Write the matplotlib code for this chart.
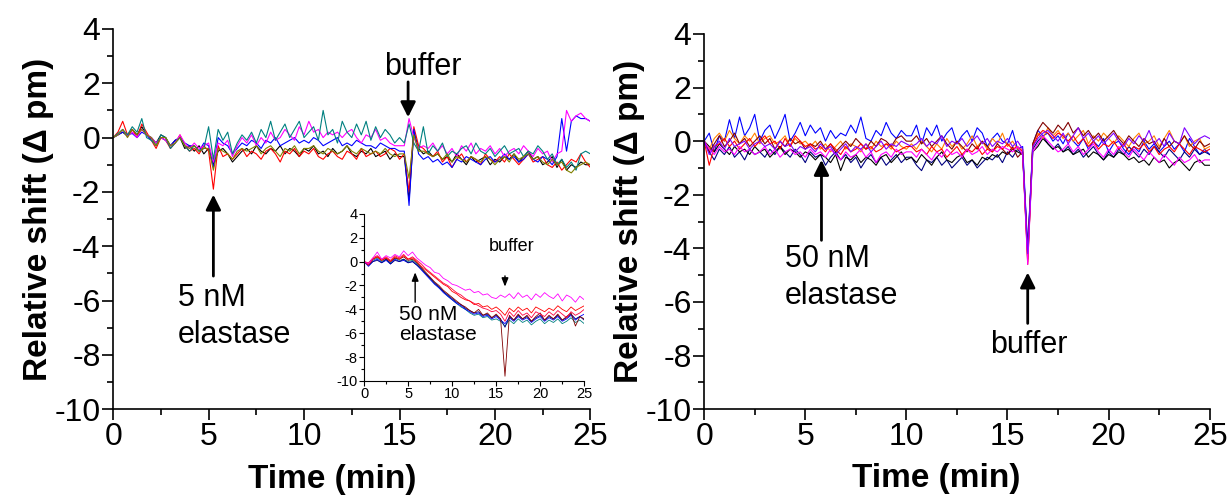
import numpy as np
import matplotlib
matplotlib.use("Agg")
import matplotlib.pyplot as plt
from matplotlib.ticker import MultipleLocator

plt.rcParams['font.family'] = ['Liberation Sans', 'DejaVu Sans']
plt.rcParams['axes.unicode_minus'] = False

# ---- left panel, 5 nM elastase (one point every 0.25 min) ----
left_black = [0, 0.1, 0.2, 0.05, 0.3, 0.1, 0.4, 0.1, 0.0, -0.2, 0.1,
              0.0, -0.3, -0.1, 0.0, -0.4, -0.3, -0.5, -0.3, -0.6, -0.4,
              -1.0,
              -0.5, -0.4, -0.6, -0.9, -0.7, -0.5, -0.4, -0.6, -0.3, -0.5, -0.6, -0.4, -0.5, -0.3, -0.6, -0.4, -0.5, -0.7, -0.4,
              -0.5, -0.3, -0.6, -0.5, -0.7, -0.4, -0.6, -0.5, -0.3, -0.6, -0.7, -0.5, -0.6, -0.4, -0.7, -0.6, -0.5, -0.8, -0.6, -0.7, -0.7,
              -2.3,
              0.2, -0.4, -0.6, -0.5, -0.7, -0.6, -0.8, -0.7, -0.9, -0.6, -0.8, -1.0, -0.7, -0.9, -0.8, -0.7, -1.0, -0.8, -0.9,
              -0.7, -0.8, -0.6, -0.9, -0.7, -0.5, -0.8, -0.7, -1.0, -0.9, -0.7, -1.1, -0.8, -1.2, -1.0, -1.1, -0.9, -1.0, -1.0]
left_red = [0, 0.2, 0.6, 0.1, 0.3, 0.0, 0.5, 0.2, -0.1, -0.4, 0.0,
            -0.1, -0.4, -0.2, 0.1, -0.3, -0.5, -0.4, -0.6, -0.3, -0.5,
            -1.9,
            -0.3, -0.7, -0.6, -0.8, -0.6, -0.4, -0.7, -0.5, -0.6, -0.8, -0.5, -0.4, -0.6, -0.9, -0.5, -0.6, -0.4, -0.7, -0.5,
            -0.6, -0.4, -0.7, -0.8, -0.6, -0.5, -0.7, -0.8, -0.5, -0.6, -0.8, -0.4, -0.7, -0.6, -0.5, -0.7, -0.6, -0.4, -0.5, -0.8, -0.6,
            -2.0,
            0.4, -0.3, -0.4, -0.6, -0.7, -0.5, -0.9, -0.7, -1.1, -0.8, -0.6, -0.9, -0.7, -0.8, -1.0, -0.6, -0.8, -0.9, -0.7,
            -0.9, -0.6, -0.8, -1.0, -0.8, -0.6, -0.9, -0.8, -0.7, -1.0, -1.1, -0.9, -1.2, -1.0, -0.8, -0.9, -0.6, -0.9, -1.1]
left_blue = [0, 0.1, 0.2, 0.1, 0.15, 0.0, 0.2, 0.1, -0.1, -0.2, 0.0,
             -0.1, -0.3, -0.1, 0.0, -0.2, -0.3, -0.3, -0.5, -0.2, -0.3,
             -1.1,
             0.0, -0.2, -0.3, -0.6, -0.4, -0.2, -0.3, -0.1, -0.2, -0.4, -0.1, -0.2, 0.0, -0.3, -0.2, -0.1, 0.0, -0.2, -0.1,
             -0.2, 0.0, -0.1, -0.3, -0.2, -0.1, 0.0, -0.3, -0.2, -0.3, -0.1, -0.2, -0.3, -0.3, -0.4, -0.2, -0.3, -0.4, -0.4, -0.5, -0.5,
             -2.5,
             0.3, -0.6, -0.8, -0.7, -0.9, -0.8, -1.0, -0.9, -1.1, -0.8, -0.9, -0.7, -0.8, -0.9, -1.0, -0.8, -0.7, -0.9, -0.8,
             -0.6, -0.8, -0.7, -0.9, -0.8, -0.6, -0.8, -0.9, -0.7, -0.8, -1.0, -0.7, 0.7, -0.5, 0.6, 0.8, 0.7, 0.7, 0.6]
left_magenta = [0, 0.1, 0.3, 0.05, 0.2, 0.0, 0.3, 0.1, 0.0, -0.2, 0.0,
                -0.1, -0.3, -0.2, 0.1, -0.2, -0.4, -0.2, -0.4, -0.3, -0.2,
                -0.9,
                -0.2, -0.3, -0.1, -0.7, -0.3, 0.0, -0.2, 0.1, -0.3, 0.0, -0.2, 0.2, -0.1, 0.0, 0.3, 0.1, -0.1, 0.4, 0.1,
                0.6, 0.2, 0.3, 0.0, 0.2, 0.1, 0.2, 0.0, 0.2, 0.3, 0.0, -0.2, 0.1, 0.0, 0.3, -0.1, 0.0, -0.2, -0.3, -0.3, -0.3,
                0.7,
                0.0, -0.4, -0.3, -0.4, -0.2, -0.5, -0.3, -0.6, -0.4, -0.7, -0.3, -0.5, -0.2, -0.6, -0.4, -0.5, -0.3, -0.6, -0.4,
                -0.7, -0.5, -0.4, -0.6, -0.3, -0.5, -0.7, -0.4, -0.6, -0.5, -0.9, -0.6, -0.5, 1.0, 0.6, 0.8, 0.9, 0.7, 0.6]
left_teal = [0, 0.15, 0.3, 0.1, 0.4, 0.2, 0.7, 0.0, -0.1, -0.3, 0.1,
             0.0, -0.4, -0.2, 0.0, -0.3, -0.5, -0.3, -0.5, -0.4, 0.4,
             -0.8,
             0.3, -0.1, 0.2, -0.6, -0.2, 0.1, -0.1, 0.2, -0.2, 0.3, 0.0, 0.6, -0.1, 0.2, 0.5, 0.0, 0.3, 0.6, 0.0,
             0.2, 0.4, -0.1, 1.0, 0.1, 0.3, -0.2, 0.6, 0.2, 0.0, 0.5, 0.1, 0.6, -0.1, 0.4, 0.0, 0.3, 0.1, -0.2, 0.0, -0.2,
             0.5,
             -0.2, -0.5, 0.4, -0.6, -0.3, -0.5, -0.2, -0.7, -0.5, -0.6, -0.4, -0.3, -0.6, -0.2, -0.5, -0.6, -0.4, -0.7, -0.5,
             -0.3, -0.6, -0.5, -0.4, -0.7, -0.5, -0.6, -0.3, -0.5, -0.8, -0.6, -1.0, -0.8, -1.1, -0.9, -1.2, -0.6, -0.5, -0.6]
left_olive = [0, 0.1, 0.3, 0.0, 0.3, 0.1, 0.3, 0.1, 0.0, -0.3, 0.0,
              0.0, -0.3, -0.2, 0.0, -0.3, -0.4, -0.3, -0.5, -0.4, -0.4,
              -1.2,
              -0.4, -0.5, -0.6, -0.8, -0.5, -0.4, -0.5, -0.4, -0.3, -0.6, -0.4, -0.3, -0.5, -0.7, -0.4, -0.5, -0.3, -0.6, -0.4,
              -0.4, -0.3, -0.5, -0.6, -0.4, -0.5, -0.6, -0.5, -0.3, -0.5, -0.6, -0.4, -0.5, -0.6, -0.5, -0.6, -0.4, -0.6, -0.7, -0.6, -0.6,
              -1.5,
              0.1, -0.5, -0.5, -0.6, -0.7, -0.6, -0.8, -0.6, -0.9, -0.7, -0.8, -0.9, -0.7, -0.8, -0.9, -0.7, -0.8, -1.0, -0.8,
              -0.7, -0.9, -0.6, -0.8, -0.7, -0.6, -0.8, -0.7, -0.9, -1.0, -0.8, -1.0, -0.9, -1.2, -1.3, -1.1, -1.0, -0.9, -1.0]
left_series = [left_black, left_red, left_blue, left_magenta, left_teal, left_olive]
left_colors = ['black', 'red', 'blue', 'magenta', '#008080', '#808000']

# ---- right panel, 50 nM elastase (one point every 0.25 min) ----
right_blue = [0.0, 0.3, -0.4, 0.2, 0.0, 0.8, 0.1, 0.9, 0.2, 0.5, 1.0, 0.0, 0.4, 0.6, 0.1, 0.5, 1.0, 0.0, 0.3, 0.7, 0.2,
              0.6, 0.3, 0.5, 0.0, 0.4, 0.1, 0.3, 0.2, 0.6, 0.3, 0.9, 0.1, 0.0, 0.4, 0.2, 0.7, 0.3, 0.1, 0.4, 0.2,
              0.2, 0.6, -0.1, 0.5, 0.2, 0.6, 0.0, 0.3, 0.5, -0.1, 0.2, 0.4, 0.0, 0.5, 0.3, -0.2, 0.1, 0.3, 0.0, -0.1, 0.4, -0.3, -0.2,
              -4.0,
              -0.1, 0.4, 0.2, 0.3, 0.0, 0.2, -0.1, 0.3, 0.0, -0.2, 0.1, -0.3, 0.0, -0.2, 0.1, -0.4, -0.1, 0.0,
              -0.3, -0.5, -0.2, -0.4, 0.0, -0.3, -0.1, -0.4, -0.2, 0.0, -0.3, -0.1, -0.4, 0.1, -0.2, -0.5, -0.3, -0.5]
right_black = [0, -0.2, -0.4, -0.1, -0.3, -0.5, -0.2, -0.4, -0.3, -0.5, -0.2, -0.4, -0.3, -0.6, -0.4, -0.2, -0.5, -0.3, -0.4, -0.6, -0.4,
               -0.5, -0.7, -0.5, -0.6, -0.8, -0.5, -1.1, -0.6, -0.7, -0.5, -0.8, -0.6, -0.7, -0.9, -0.6, -0.5, -0.8, -0.6, -0.4, -0.7,
               -0.6, -0.8, -0.5, -0.7, -0.9, -0.6, -0.4, -0.7, -0.8, -0.6, -0.5, -0.8, -0.7, -0.9, -0.6, -0.7, -0.5, -0.6, -0.4, -0.5, -0.3, -0.4, -0.5,
               -4.4,
               -0.4, -0.2, 0.1, -0.1, -0.3, -0.2, -0.4, -0.3, -0.5, -0.4, -0.3, -0.6, -0.4, -0.5, -0.7, -0.5, -0.6, -0.4,
               -0.5, -0.7, -0.6, -0.8, -0.7, -0.9, -0.6, -0.8, -0.7, -1.0, -0.8, -0.7, -0.9, -1.1, -0.8, -0.7, -0.9, -0.9]
right_red = [0, -0.9, -0.2, -0.1, 0.1, -0.2, 0.0, -0.3, -0.1, 0.1, -0.2, 0.0, 0.2, -0.1, 0.0, -0.3, 0.1, -0.2, 0.2, 0.0, -0.2,
             -0.1, -0.3, -0.2, -0.4, -0.1, -0.3, -0.5, -0.2, -0.4, -0.3, -0.1, -0.3, -0.2, -0.4, -0.3, -0.1, -0.2, -0.4, -0.3, -0.2,
             -0.2, -0.4, -0.3, -0.5, -0.2, -0.4, -0.3, -0.6, -0.4, -0.2, -0.5, -0.3, -0.4, -0.2, -0.5, -0.3, -0.4, -0.2, -0.3, -0.1, -0.3, -0.2, -0.4,
             -4.6,
             -0.2, 0.2, 0.4, 0.3, 0.1, 0.3, 0.2, 0.0, 0.2, -0.1, 0.1, -0.2, 0.0, -0.3, -0.1, -0.2, 0.0, -0.3,
             -0.1, -0.4, -0.2, -0.3, -0.1, -0.4, -0.2, -0.5, -0.3, -0.2, -0.4, -0.1, -0.3, -0.5, -0.2, -0.3, -0.4, -0.3]
right_orange = [0, -0.3, 0.1, 0.3, 0.0, 0.4, 0.1, -0.1, 0.2, 0.0, 0.3, -0.1, 0.1, 0.2, -0.1, 0.0, 0.2, -0.2, 0.1, -0.1, 0.0,
                -0.2, 0.0, -0.3, -0.1, -0.4, -0.2, 0.0, -0.3, -0.1, -0.2, -0.4, -0.1, -0.3, 0.0, -0.2, -0.1, -0.3, 0.0, -0.2, -0.3,
                -0.1, -0.3, 0.0, -0.2, -0.4, -0.1, -0.3, 0.1, -0.2, 0.0, -0.3, -0.1, 0.2, -0.2, 0.0, -0.3, 0.1, -0.1, 0.3, -0.2, 0.0, -0.3, -0.3,
                -4.5,
                -0.1, 0.3, 0.1, 0.5, 0.2, 0.4, 0.1, 0.3, 0.0, 0.2, 0.4, -0.1, 0.2, 0.0, 0.3, 0.1, -0.1, 0.2,
                0.0, -0.2, 0.1, 0.3, -0.1, 0.0, 0.2, -0.2, 0.1, 0.4, 0.0, -0.1, 0.2, -0.2, 0.0, 0.1, -0.3, -0.2]
right_darkred = [0, -0.4, -0.1, 0.2, -0.2, 0.0, 0.3, -0.1, 0.1, -0.2, 0.0, 0.2, -0.1, 0.1, -0.3, 0.0, -0.2, 0.1, -0.1, 0.0, -0.3,
                 -0.1, -0.2, 0.0, -0.3, -0.1, -0.4, -0.2, 0.0, -0.2, 0.1, -0.1, -0.3, 0.0, -0.2, 0.1, 0.0, -0.2, 0.1, 0.2, 0.0,
                 0.0, 0.2, -0.1, 0.1, -0.2, 0.0, 0.2, -0.1, -0.3, 0.0, -0.2, -0.4, -0.1, -0.3, 0.0, -0.2, -0.4, -0.1, -0.3, -0.5, -0.2, -0.6, -0.4,
                 -4.3,
                 -0.1, 0.4, 0.7, 0.5, 0.3, 0.6, 0.4, 0.7, 0.3, 0.5, 0.2, 0.4, 0.1, 0.3, 0.0, 0.2, 0.4, 0.1,
                 -0.1, 0.2, 0.0, -0.2, 0.1, -0.1, 0.0, -0.3, 0.1, -0.2, 0.0, -0.1, 0.2, -0.1, -0.3, 0.0, -0.2, -0.1]
right_magenta = [0, -0.3, -0.5, -0.2, -0.4, -0.3, -0.5, -0.2, -0.4, -0.3, -0.5, -0.4, -0.2, -0.5, -0.3, -0.6, -0.4, -0.3, -0.5, -0.4, -0.6,
                 -0.3, -0.5, -0.4, -0.6, -0.3, -0.5, -0.7, -0.4, -0.6, -0.5, -0.3, -0.6, -0.4, -0.8, -0.5, -0.4, -0.6, -0.3, -0.5, -0.4,
                 -0.4, -0.6, -0.3, -0.5, -0.7, -0.4, -0.6, -0.3, -0.5, -0.4, -0.6, -0.3, -0.5, -0.4, -0.2, -0.5, -0.3, -0.4, -0.2, -0.3, -0.4, -0.2, -0.5,
                 -4.6,
                 -0.4, -0.1, 0.2, 0.0, -0.2, -0.4, -0.3, -0.1, -0.4, -0.2, -0.5, -0.3, -0.1, -0.4, -0.6, -0.3, -0.5, -0.2,
                 -0.4, -0.6, -0.3, -0.5, -0.7, -0.4, -0.6, -0.8, -0.5, -0.7, -0.9, -0.6, -0.8, -0.7, -0.5, -0.8, -0.7, -0.7]
right_purple = [0, -0.5, -0.2, 0.0, -0.3, 0.1, -0.2, -0.1, 0.0, -0.3, -0.1, 0.0, -0.2, -0.1, -0.3, 0.0, -0.2, -0.1, -0.4, -0.2, -0.3,
                -0.2, -0.4, -0.1, -0.3, -0.2, -0.5, -0.3, -0.1, -0.4, -0.2, -0.3, -0.1, -0.4, -0.2, 0.0, -0.3, -0.1, -0.2, 0.0, -0.1,
                -0.2, -0.1, 0.1, -0.2, 0.0, -0.1, 0.2, -0.2, 0.0, -0.1, 0.1, -0.2, 0.0, 0.2, -0.1, 0.1, -0.2, 0.0, -0.1, 0.1, -0.2, 0.0, -0.3,
                -4.2,
                -0.2, 0.1, 0.3, 0.4, 0.2, 0.0, 0.3, -0.1, 0.2, 0.5, 0.1, 0.3, 0.0, 0.2, -0.1, 0.1, 0.3, 0.0,
                -0.2, 0.1, -0.1, 0.2, 0.0, 0.4, -0.1, 0.1, -0.2, 0.3, 0.0, -0.1, 0.5, 0.2, -0.1, 0.1, 0.2, 0.1]
right_navy = [0, -0.4, -0.7, -0.3, -0.5, -0.2, -0.6, -0.4, -0.7, -0.3, -0.5, -0.4, -0.6, -0.3, -0.5, -0.2, -0.4, -0.6, -0.3, -0.5, -0.8,
              -0.4, -0.6, -0.5, -0.9, -0.6, -0.4, -0.7, -0.5, -0.8, -0.6, -1.0, -0.7, -0.5, -0.8, -0.6, -0.9, -0.7, -0.5, -0.8, -0.6,
              -0.6, -0.9, -1.1, -0.7, -0.8, -0.6, -0.9, -0.7, -1.0, -0.8, -0.6, -0.9, -0.7, -1.0, -0.8, -0.6, -0.7, -0.5, -0.8, -0.4, -0.6, -0.3, -0.5,
              -4.0,
              -0.3, 0.0, 0.2, -0.1, -0.3, -0.1, -0.4, -0.2, -0.5, -0.3, -0.6, -0.4, -0.2, -0.5, -0.7, -0.4, -0.6, -0.3,
              -0.5, -0.2, -0.4, -0.6, -0.3, -0.5, -0.2, -0.4, -0.6, -0.3, -0.5, -0.7, -0.4, -0.6, -0.3, -0.5, -0.4, -0.5]
right_series = [right_blue, right_navy, right_black, right_orange, right_darkred, right_red, right_magenta, right_purple]
right_colors = ['blue', '#000080', 'black', '#ff8000', '#800000', 'red', 'magenta', '#8000ff']

# ---- inset, 50 nM elastase (one point every 0.5 min) ----
inset_magenta = [0, -0.2, 0.3, 0.8, 0.2, 0.5, 0.3, 0.6, 0.4, 0.9, 0.5, 0.8, 0.3, 0.0, -0.3, -0.5, -0.9, -1.0, -1.4, -1.6,
                 -1.9, -2.0, -2.2, -2.4, -2.3, -2.6, -2.5, -2.8, -2.7, -3.0, -3.1, -2.8, -3.0, -2.7, -3.1, -2.6, -3.0, -2.8,
                 -3.2, -2.7, -3.0, -2.6, -2.9, -3.1, -2.7, -3.3, -2.8, -3.0, -3.4, -2.9, -3.2]
inset_red = [0, -0.3, 0.2, 0.4, 0.1, 0.3, 0.0, 0.4, 0.2, 0.5, 0.2, 0.3, 0.0, -0.4, -0.7, -1.0, -1.3, -1.6, -1.9, -2.1,
             -2.5, -2.7, -3.0, -3.2, -3.3, -3.6, -3.5, -3.8, -3.7, -4.0, -3.8, -4.1, -4.5, -3.9, -4.2, -3.8, -4.1, -3.9,
             -4.3, -3.8, -4.0, -4.2, -3.9, -4.1, -3.7, -4.0, -4.2, -3.8, -4.1, -3.9, -3.7]
inset_crimson = [0, -0.1, 0.3, 0.5, 0.2, 0.4, 0.1, 0.5, 0.3, 0.6, 0.2, 0.4, 0.1, -0.2, -0.6, -0.9, -1.2, -1.5, -1.8, -2.0,
                 -2.3, -2.6, -2.8, -3.1, -3.3, -3.5, -3.7, -3.9, -4.0, -4.2, -4.1, -4.4, -5.0, -4.2, -4.6, -4.1, -4.5, -4.3,
                 -4.7, -4.2, -4.4, -4.6, -4.2, -4.5, -4.1, -4.4, -4.7, -4.2, -4.5, -4.3, -4.0]
inset_blue = [0, -0.4, 0.0, 0.2, -0.1, 0.1, -0.2, 0.2, 0.0, 0.1, -0.1, 0.0, -0.3, -0.7, -1.1, -1.5, -1.9, -2.2, -2.6, -2.9,
              -3.2, -3.5, -3.7, -4.0, -4.2, -4.4, -4.3, -4.6, -4.5, -4.8, -4.6, -4.9, -5.2, -4.7, -5.0, -4.6, -4.9, -4.7,
              -5.1, -4.8, -4.6, -5.0, -4.7, -4.9, -4.6, -5.0, -4.8, -4.5, -4.9, -4.6, -4.4]
inset_teal = [0, -0.3, 0.1, 0.3, 0.0, 0.2, -0.1, 0.3, 0.1, 0.2, 0.0, 0.1, -0.2, -0.6, -1.0, -1.4, -1.8, -2.2, -2.5, -2.9,
              -3.2, -3.5, -3.8, -4.0, -4.3, -4.5, -4.4, -4.7, -4.6, -4.9, -4.8, -5.0, -5.4, -4.9, -5.2, -4.8, -5.1, -4.9,
              -5.3, -5.0, -4.8, -5.2, -4.9, -5.1, -4.8, -5.2, -5.0, -4.7, -5.1, -4.9, -5.2]
inset_darkred = [0, -0.2, 0.2, 0.4, 0.1, 0.3, 0.0, 0.3, 0.2, 0.4, 0.1, 0.2, -0.1, -0.5, -0.9, -1.3, -1.7, -2.0, -2.4, -2.7,
                 -3.0, -3.3, -3.6, -3.8, -4.1, -4.3, -4.0, -4.5, -4.3, -4.7, -4.4, -4.8, -9.6, -4.5, -4.9, -4.4, -4.8, -4.5,
                 -5.0, -4.6, -4.3, -4.9, -4.5, -4.8, -4.4, -4.9, -4.6, -4.3, -5.4, -4.6, -4.8]
inset_navy = [0, -0.3, 0.0, 0.1, -0.1, 0.2, -0.2, 0.1, 0.0, 0.2, -0.1, 0.0, -0.3, -0.6, -1.0, -1.4, -1.8, -2.1, -2.5, -2.8,
              -3.1, -3.4, -3.6, -3.9, -4.1, -4.3, -4.2, -4.5, -4.4, -4.7, -4.5, -4.8, -5.5, -4.6, -4.9, -4.5, -4.8, -4.6,
              -5.0, -4.7, -4.5, -4.9, -4.6, -4.8, -4.5, -4.9, -4.7, -4.4, -4.8, -4.6, -4.9]
inset_series = [inset_teal, inset_blue, inset_navy, inset_darkred, inset_crimson, inset_red, inset_magenta]
inset_colors = ['#008080', 'blue', '#000080', '#800000', '#ff0040', 'red', 'magenta']


def style_axes(ax, fs, lw=1.2):
    ax.set_xlim(0, 25)
    ax.set_ylim(-10, 4)
    ax.xaxis.set_major_locator(MultipleLocator(5))
    ax.xaxis.set_minor_locator(MultipleLocator(2.5))
    ax.yaxis.set_major_locator(MultipleLocator(2))
    ax.yaxis.set_minor_locator(MultipleLocator(1))
    for s in ['top', 'right']:
        ax.spines[s].set_visible(False)
    for s in ['left', 'bottom']:
        ax.spines[s].set_linewidth(lw)
    ax.tick_params(which='both', direction='out', width=lw, labelsize=fs, pad=1)
    ax.tick_params(which='major', length=fs * 0.35)
    ax.tick_params(which='minor', length=fs * 0.2)


def draw(ax, series, colors, lw):
    for y, c in zip(series, colors):
        t = np.linspace(0, 25, len(y))
        ax.plot(t, y, color=c, lw=lw)


def arrow(ax, tip, tail, lw=2, hw=0.45, hl=0.9):
    ax.annotate('', xy=tip, xytext=tail,
                arrowprops=dict(arrowstyle='-|>,head_width=%s,head_length=%s' % (hw, hl),
                                color='black', lw=lw, shrinkA=0, shrinkB=0))


fig = plt.figure(figsize=(12.3, 4.99), dpi=100)

ax1 = fig.add_axes([0.092, 0.180, 0.388, 0.762])
ax2 = fig.add_axes([0.5725, 0.180, 0.411, 0.752])
ins = fig.add_axes([0.296, 0.2365, 0.179, 0.335])

style_axes(ax1, 23)
style_axes(ax2, 23)
style_axes(ins, 10.5, lw=0.8)

draw(ax1, left_series, left_colors, 0.8)
draw(ax2, right_series, right_colors, 0.8)
draw(ins, inset_series, inset_colors, 0.6)

for ax in (ax1, ax2):
    ax.set_xlabel('Time (min)', fontsize=24, fontweight='bold')
    ax.xaxis.label.set_va('center')
    ax.xaxis.set_label_coords(0.459, -0.185)
    ax.set_ylabel('Relative shift (\u0394 pm)', fontsize=24, fontweight='bold', labelpad=0)

# left annotations
ax1.text(16.2, 2.6, 'buffer', fontsize=22, ha='center', va='center')
arrow(ax1, (15.45, 0.75), (15.45, 2.05))
ax1.text(3.4, -6.6, '5 nM\nelastase', fontsize=22, ha='left', va='center', linespacing=1.3)
arrow(ax1, (5.25, -2.1), (5.25, -5.1))

# inset annotations
ins.text(16.8, 1.3, 'buffer', fontsize=13, ha='center', va='center')
arrow(ins, (16.0, -2.1), (16.0, -1.2), lw=1, hw=0.2, hl=0.5)
ins.text(4.0, -5.3, '50 nM\nelastase', fontsize=15, ha='left', va='center', linespacing=1.05)
arrow(ins, (5.8, -0.9), (5.8, -3.4), lw=1, hw=0.2, hl=0.5)

# right annotations
ax2.text(4.0, -5.1, '50 nM\nelastase', fontsize=22, ha='left', va='center', linespacing=1.3)
arrow(ax2, (5.8, -0.7), (5.8, -3.7))
ax2.text(16.05, -7.6, 'buffer', fontsize=22, ha='center', va='center')
arrow(ax2, (16.0, -4.9), (16.0, -6.8))

fig.savefig('out.png', dpi=100)
